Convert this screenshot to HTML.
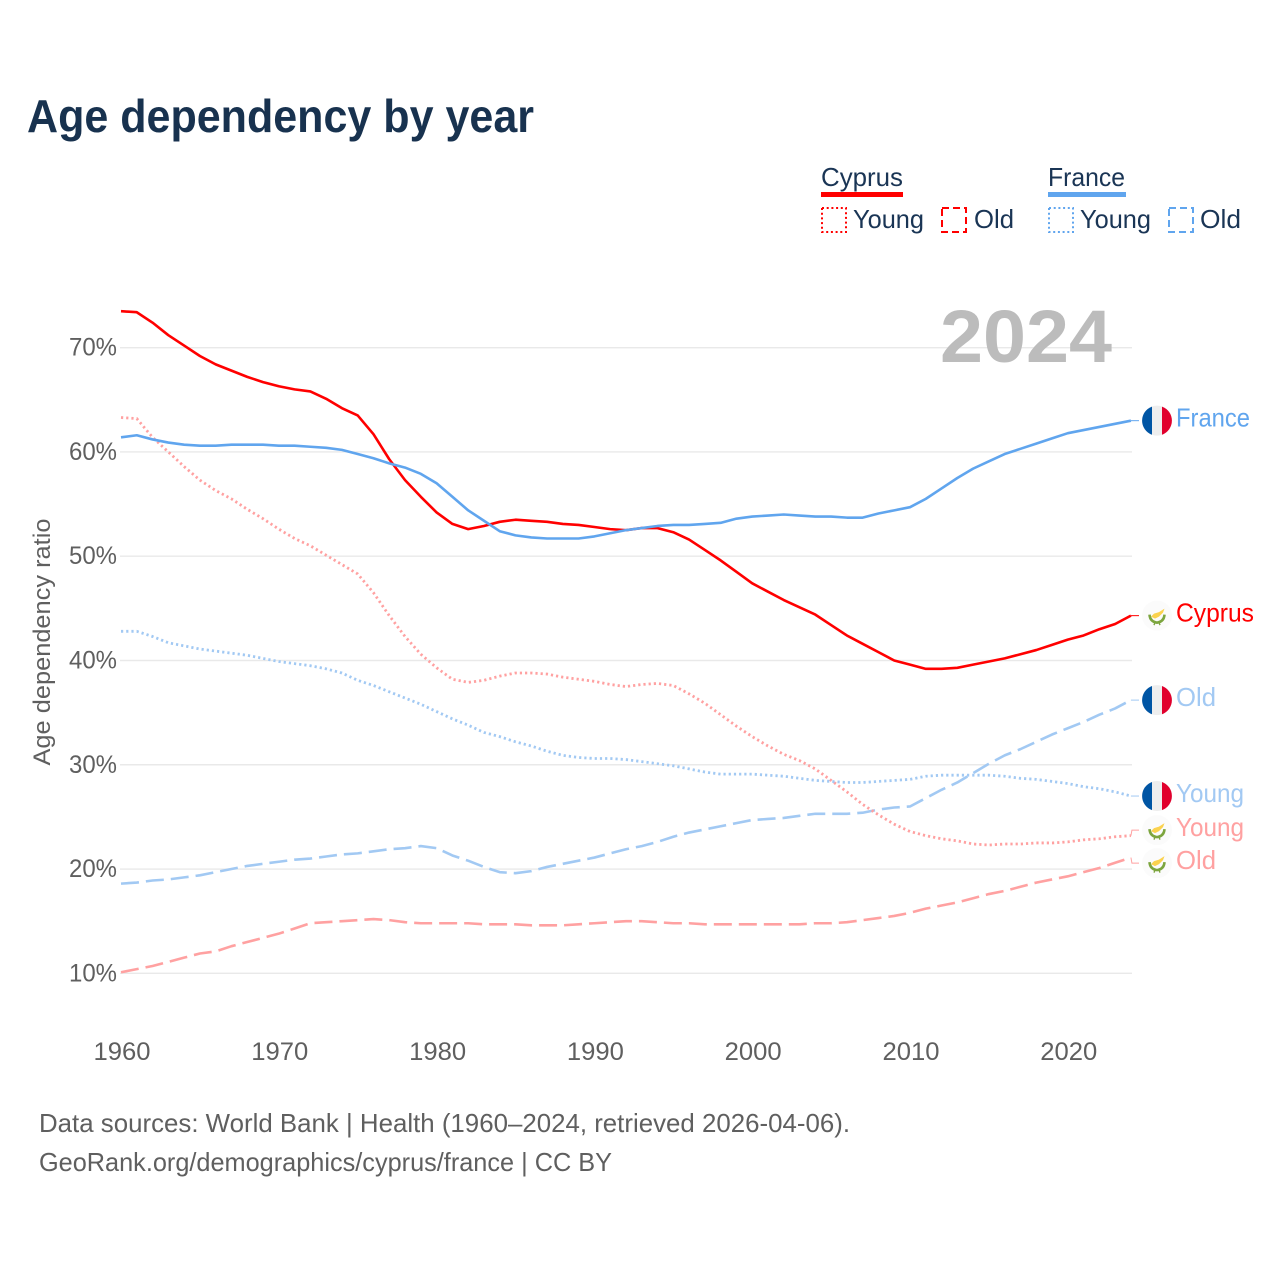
<!DOCTYPE html>
<html lang="en">
<head>
<meta charset="utf-8">
<title>Age dependency by year</title>
<style>
html,body{margin:0;padding:0;background:#fff;width:1280px;height:1280px;overflow:hidden}
svg{display:block;font-family:"Liberation Sans",sans-serif}
</style>
</head>
<body>
<svg id="chart" xmlns="http://www.w3.org/2000/svg" width="1280" height="1280" viewBox="0 0 1280 1280">
  <text x="27" y="132" font-size="46" font-weight="700" fill="#18324f" textLength="507" lengthAdjust="spacingAndGlyphs">Age dependency by year</text>

  <g font-size="26" fill="#1a3555">
    <text x="821" y="186" textLength="82" lengthAdjust="spacingAndGlyphs">Cyprus</text>
    <rect x="821" y="192" width="82" height="5" fill="#ff0000"/>
    <rect x="822" y="208" width="24" height="24" fill="none" stroke="#ff0000" stroke-width="2" stroke-dasharray="2 2.7"/>
    <text x="853" y="228" textLength="71" lengthAdjust="spacingAndGlyphs">Young</text>
    <rect x="942" y="208" width="24" height="24" fill="none" stroke="#ff0000" stroke-width="2" stroke-dasharray="7 4"/>
    <text x="974" y="228" textLength="40" lengthAdjust="spacingAndGlyphs">Old</text>

    <text x="1048" y="186" textLength="77" lengthAdjust="spacingAndGlyphs">France</text>
    <rect x="1048" y="192" width="78" height="5" fill="#60a5ee"/>
    <rect x="1049" y="208" width="24" height="24" fill="none" stroke="#60a5ee" stroke-width="2" stroke-dasharray="2 2.7"/>
    <text x="1080" y="228" textLength="71" lengthAdjust="spacingAndGlyphs">Young</text>
    <rect x="1169" y="208" width="24" height="24" fill="none" stroke="#60a5ee" stroke-width="2" stroke-dasharray="7 4"/>
    <text x="1200" y="228" textLength="41" lengthAdjust="spacingAndGlyphs">Old</text>
  </g>

  <g id="grid"></g>
  <g id="yticks"></g>
  <g id="xticks"></g>

  <text transform="translate(50,642) rotate(-90)" text-anchor="middle" font-size="24" fill="#5f5f5f" textLength="247" lengthAdjust="spacingAndGlyphs">Age dependency ratio</text>

  <text x="1112" y="362" text-anchor="end" font-size="74" font-weight="700" fill="#bcbcbc" textLength="172" lengthAdjust="spacingAndGlyphs">2024</text>

  <g id="series"></g>
  <g id="labels"></g>

  <g font-size="26" fill="#5f5f5f">
    <text x="39" y="1132" textLength="811" lengthAdjust="spacingAndGlyphs">Data sources: World Bank | Health (1960–2024, retrieved 2026-04-06).</text>
    <text x="39" y="1171" textLength="573" lengthAdjust="spacingAndGlyphs">GeoRank.org/demographics/cyprus/france | CC BY</text>
  </g>
</svg>

<script>
const startYear = 1960;
const xTickValues = [1960, 1970, 1980, 1990, 2000, 2010, 2020];
const yTickValues = [10, 20, 30, 40, 50, 60, 70];

const cyprusTotal = [73.5,73.4,72.4,71.2,70.2,69.2,68.4,67.8,67.2,66.7,66.3,66.0,65.8,65.1,64.2,63.5,61.7,59.3,57.3,55.7,54.2,53.1,52.6,52.9,53.3,53.5,53.4,53.3,53.1,53.0,52.8,52.6,52.5,52.7,52.7,52.3,51.6,50.6,49.6,48.5,47.4,46.6,45.8,45.1,44.4,43.4,42.4,41.6,40.8,40.0,39.6,39.2,39.2,39.3,39.6,39.9,40.2,40.6,41.0,41.5,42.0,42.4,43.0,43.5,44.3];
const franceTotal = [61.4,61.6,61.2,60.9,60.7,60.6,60.6,60.7,60.7,60.7,60.6,60.6,60.5,60.4,60.2,59.8,59.4,58.9,58.5,57.9,57.0,55.7,54.4,53.4,52.4,52.0,51.8,51.7,51.7,51.7,51.9,52.2,52.5,52.7,52.9,53.0,53.0,53.1,53.2,53.6,53.8,53.9,54.0,53.9,53.8,53.8,53.7,53.7,54.1,54.4,54.7,55.5,56.5,57.5,58.4,59.1,59.8,60.3,60.8,61.3,61.8,62.1,62.4,62.7,63.0];
const cyprusYoung = [63.3,63.2,61.4,60.0,58.6,57.3,56.3,55.5,54.5,53.6,52.6,51.7,51.0,50.1,49.2,48.3,46.5,44.3,42.3,40.6,39.3,38.2,37.9,38.1,38.5,38.8,38.8,38.7,38.4,38.2,38.0,37.7,37.5,37.7,37.8,37.6,36.8,35.9,34.8,33.7,32.7,31.8,31.0,30.4,29.6,28.5,27.4,26.2,25.2,24.3,23.6,23.2,22.9,22.7,22.4,22.3,22.4,22.4,22.5,22.5,22.6,22.8,22.9,23.1,23.2];
const franceYoung = [42.8,42.8,42.3,41.7,41.4,41.1,40.9,40.7,40.5,40.2,39.9,39.7,39.5,39.2,38.8,38.1,37.6,37.0,36.4,35.8,35.1,34.4,33.8,33.1,32.7,32.2,31.8,31.3,30.9,30.7,30.6,30.6,30.5,30.3,30.1,29.9,29.6,29.3,29.1,29.1,29.1,29.0,28.9,28.7,28.5,28.4,28.3,28.3,28.4,28.5,28.6,28.9,29.0,29.0,29.0,29.0,28.9,28.7,28.6,28.4,28.2,27.9,27.7,27.4,27.0];
const franceOld = [18.6,18.7,18.9,19.0,19.2,19.4,19.7,20.0,20.3,20.5,20.7,20.9,21.0,21.2,21.4,21.5,21.7,21.9,22.0,22.2,22.0,21.3,20.8,20.2,19.7,19.6,19.8,20.2,20.5,20.8,21.1,21.5,21.9,22.2,22.6,23.1,23.5,23.8,24.1,24.4,24.7,24.8,24.9,25.1,25.3,25.3,25.3,25.4,25.7,25.9,26.0,26.8,27.6,28.3,29.2,30.1,30.9,31.5,32.2,32.9,33.5,34.1,34.8,35.4,36.2];
const cyprusOld = [10.1,10.4,10.7,11.1,11.5,11.9,12.1,12.6,13.0,13.4,13.8,14.3,14.8,14.9,15.0,15.1,15.2,15.1,14.9,14.8,14.8,14.8,14.8,14.7,14.7,14.7,14.6,14.6,14.6,14.7,14.8,14.9,15.0,15.0,14.9,14.8,14.8,14.7,14.7,14.7,14.7,14.7,14.7,14.7,14.8,14.8,14.9,15.1,15.3,15.5,15.8,16.2,16.5,16.8,17.2,17.6,17.9,18.3,18.7,19.0,19.3,19.7,20.1,20.6,21.1];

const NS = 'http://www.w3.org/2000/svg';
const xScale = function (year) { return 121 + (year - 1960) * 15.78; };
const yScale = function (v) { return 973.3 - (v - 10) * 10.427; };
const COLORS = { red: '#ff0000', blue: '#60a5ee', lightRed: '#ffa1a1', lightBlue: '#a2c9f3' };

function make(tag, parent, attrs) {
  const el = document.createElementNS(NS, tag);
  Object.keys(attrs).forEach(function (k) { el.setAttribute(k, attrs[k]); });
  parent.appendChild(el);
  return el;
}

const gridG = document.getElementById('grid');
const yTickG = document.getElementById('yticks');
yTickValues.forEach(function (v) {
  const line = make('line', gridG, { x1: 120, x2: 1132, y1: yScale(v), y2: yScale(v), stroke: '#e9e9e9', 'stroke-width': 1.4 });
  
  
  const t = make('text', yTickG, { x: 117, y: yScale(v) + 8, 'text-anchor': 'end', 'font-size': 25, fill: '#5f5f5f', textLength: 48, lengthAdjust: 'spacingAndGlyphs' });
  t.textContent = v + '%';
  
  
});

const xTickG = document.getElementById('xticks');
xTickValues.forEach(function (yr) {
  const t = make('text', xTickG, { x: xScale(yr) + 1, y: 1060, 'text-anchor': 'middle', 'font-size': 25, fill: '#5f5f5f', textLength: 57, lengthAdjust: 'spacingAndGlyphs' });
  t.textContent = String(yr);
  
  
});

function linePath(values) {
  return values.map(function (v, i) {
    return (i ? 'L' : 'M') + xScale(startYear + i).toFixed(2) + ' ' + yScale(v).toFixed(2);
  }).join('');
}

const seriesG = document.getElementById('series');
const seriesDefs = [
  { key: 'cyprus-old', values: cyprusOld, color: COLORS.lightRed, width: 2.6, dash: '18 7', label: 'Old', labelWidth: 40, flag: 'cy' },
  { key: 'france-old', values: franceOld, color: COLORS.lightBlue, width: 2.6, dash: '18 7', label: 'Old', labelWidth: 40, flag: 'fr' },
  { key: 'cyprus-young', values: cyprusYoung, color: COLORS.lightRed, width: 2.8, dash: '2.2 3', label: 'Young', labelWidth: 68, flag: 'cy' },
  { key: 'france-young', values: franceYoung, color: COLORS.lightBlue, width: 2.8, dash: '2.2 3', label: 'Young', labelWidth: 68, flag: 'fr' },
  { key: 'cyprus-total', values: cyprusTotal, color: COLORS.red, width: 2.6, dash: '', label: 'Cyprus', labelWidth: 78, flag: 'cy' },
  { key: 'france-total', values: franceTotal, color: COLORS.blue, width: 2.6, dash: '', label: 'France', labelWidth: 74, flag: 'fr' }
];

seriesDefs.forEach(function (s) {
  const p = make('path', seriesG, { d: linePath(s.values), fill: 'none', stroke: s.color, 'stroke-width': s.width, 'stroke-linejoin': 'round' });
  if (s.dash) { p.setAttribute('stroke-dasharray', s.dash); }
  
  
});

/* End labels: start at the final value, then push overlapping labels apart */
const placed = seriesDefs.map(function (s) {
  const y0 = yScale(s.values[s.values.length - 1]);
  return { s: s, y0: y0, y: y0 };
}).sort(function (a, b) { return a.y0 - b.y0; });
for (let iter = 0; iter < 40; iter++) {
  for (let i = 1; i < placed.length; i++) {
    const gap = placed[i].y - placed[i - 1].y;
    if (gap < 33) {
      const d = (33 - gap) / 2;
      placed[i].y += d;
      placed[i - 1].y -= d;
    }
  }
}

const labelG = document.getElementById('labels');
const endX = xScale(startYear + cyprusTotal.length - 1);
const flagX = 1157;

function drawFlag(parent, code, cy) {
  const g = make('g', parent, { transform: 'translate(' + flagX + ',' + cy + ')' });
  
  
  if (code === 'fr') {
    make('circle', g, { r: 15, fill: '#eeeeee' });
    make('path', g, { d: 'M-5 -14.1A15 15 0 0 0 -5 14.1Z', fill: '#0055a4' });
    make('path', g, { d: 'M5 -14.1A15 15 0 0 1 5 14.1Z', fill: '#e1002d' });
  } else {
    make('circle', g, { r: 15, fill: '#fbfbfb' });
    make('path', g, { d: 'M-6 1L-3 -2L2 -3.5L7.5 -7L6 -3L2 1L-2 3L-4 2Z', fill: '#fbd24e' });
    make('path', g, { d: 'M-7.5 -1Q-7 6 0 7Q7 6 7.5 -1', fill: 'none', stroke: '#7ca53e', 'stroke-width': 2.6 });
    make('path', g, { d: 'M-2 7L-3 9.5M2 7L3 9.5', fill: 'none', stroke: '#7ca53e', 'stroke-width': 1.4 });
  }
}

placed.forEach(function (item) {
  const s = item.s;
  const c = make('path', labelG, {
    d: 'M' + endX + ' ' + item.y0.toFixed(2) + 'L' + (endX + 1) + ' ' + item.y.toFixed(2) + 'L1139 ' + item.y.toFixed(2),
    fill: 'none', stroke: s.color, 'stroke-width': 1
  });
  
  
  drawFlag(labelG, s.flag, item.y);
  const t = make('text', labelG, { x: 1176, y: item.y + 6, 'font-size': 26, fill: s.color, textLength: s.labelWidth, lengthAdjust: 'spacingAndGlyphs' });
  t.textContent = s.label;
  
  
});
</script>
</body>
</html>
